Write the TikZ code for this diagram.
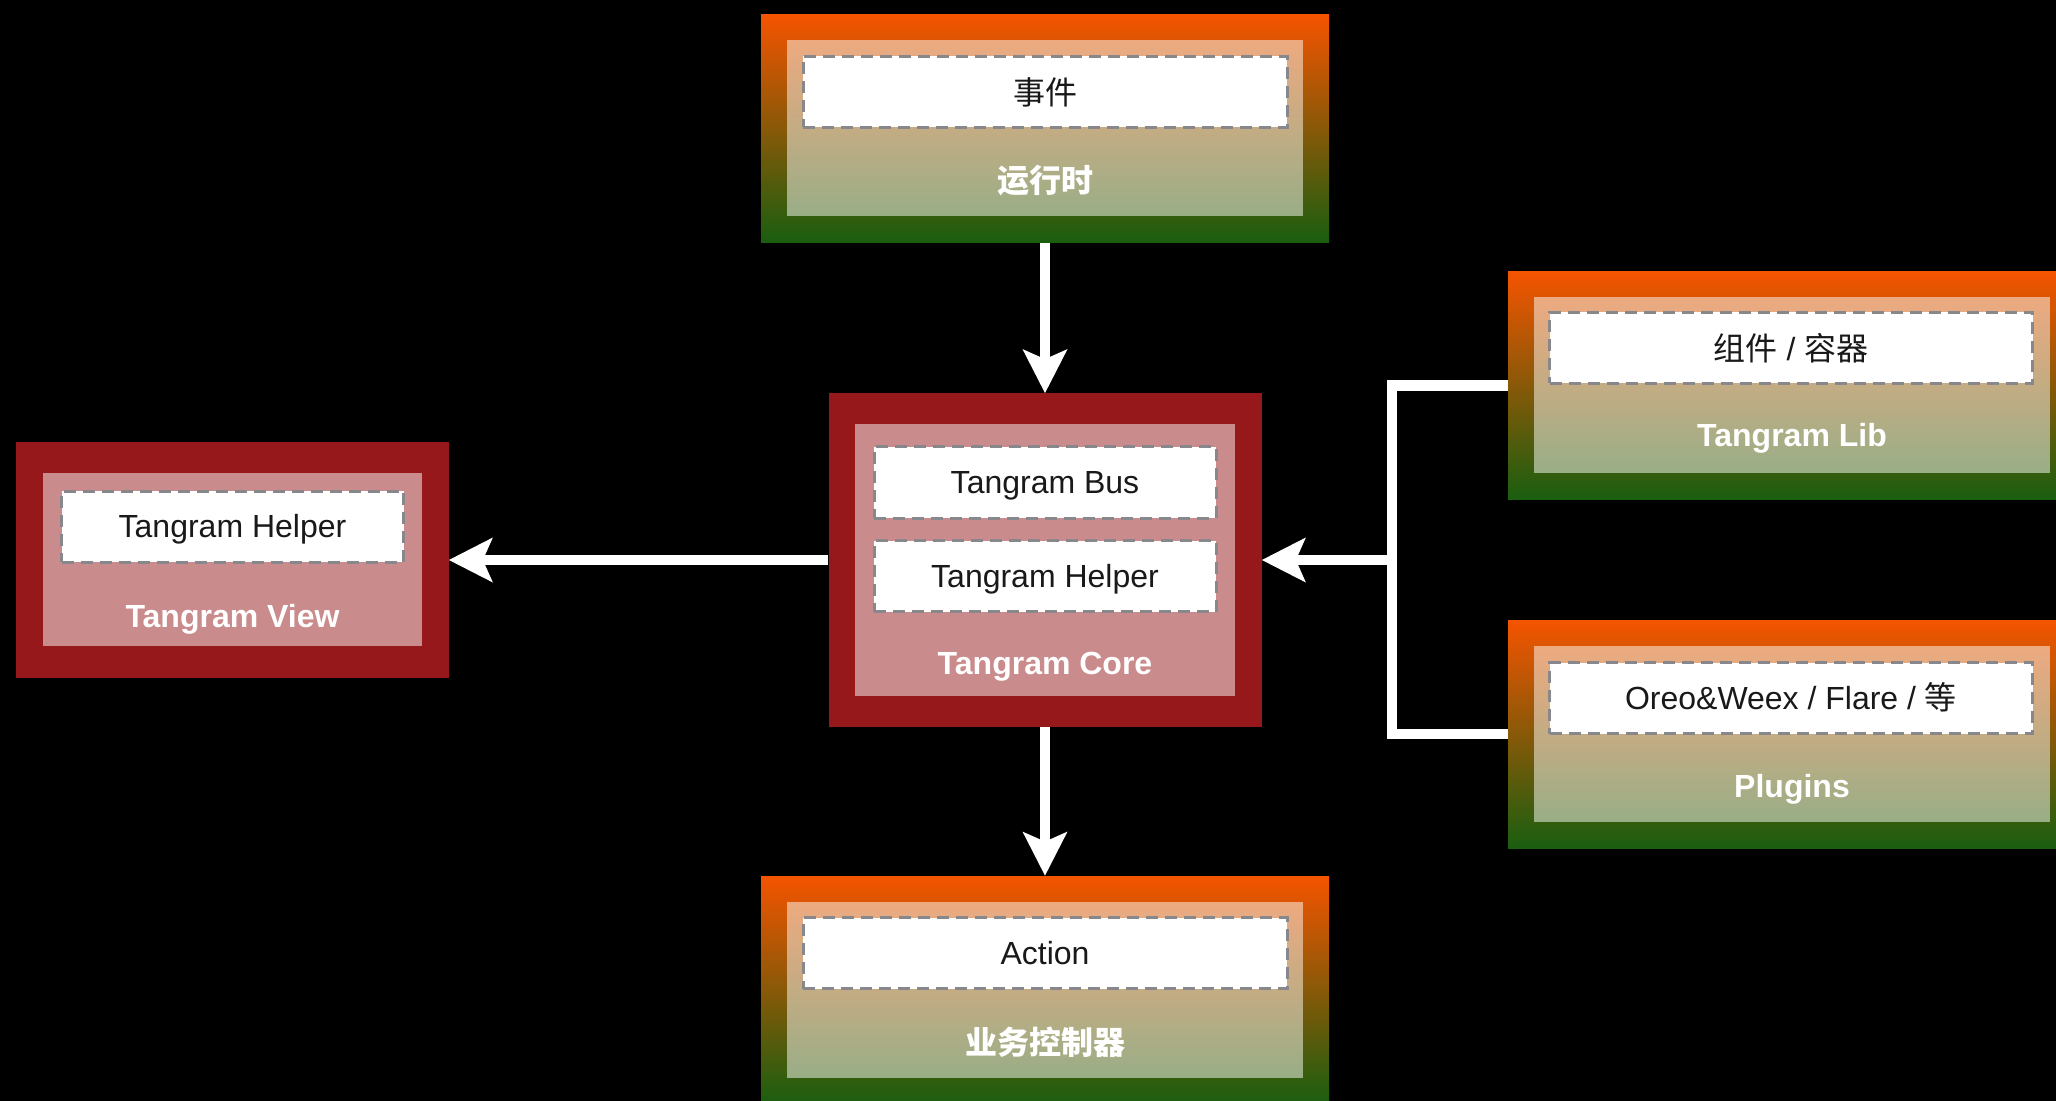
\documentclass[tikz,border=0pt]{standalone}
\usepackage{fontspec}
\setmainfont{Liberation Sans}
\newfontfamily\cjk{Noto Sans CJK SC}
\usetikzlibrary{arrows.meta}

\definecolor{gtop}{RGB}{245,84,0}
\definecolor{gbot}{RGB}{26,94,16}
\definecolor{corered}{RGB}{150,24,26}
\definecolor{slotline}{RGB}{136,136,140}

\begin{document}
\begin{tikzpicture}[x=0.5pt,y=-0.5pt,
  every node/.style={rectangle, inner sep=0pt, font=\fontsize{16}{19}\selectfont},
  gbox/.style={top color=gtop, bottom color=gbot, minimum width=284pt, minimum height=114pt},
  rbox/.style={fill=corered, minimum width=216.5pt},
  glass/.style={fill=white, fill opacity=0.5},
  slot/.style={draw=slotline, fill=white, line width=1.5pt, dash pattern=on 6pt off 3.5pt, minimum height=35.5pt, text height=11.5pt, text depth=0pt, text=black!90},
  cjkslot/.style={slot, text height=13pt},
  title/.style={text=white, text height=11.5pt, text depth=0pt, font=\fontsize{16}{19}\selectfont\bfseries},
  wire/.style={draw=white, line width=5.25pt},
  arr/.style={wire, -{Stealth[length=22pt,width=22.5pt,inset=5pt,line width=0pt]}}]
% Background
\fill[black] (0,0) rectangle (2056,1101);
\useasboundingbox (0,0) rectangle (2056,1101);

% Runtime
\node[gbox] (rt) at (1045,128.5) {};
\node[glass, minimum width=258pt, minimum height=88pt] (rt-g) at (rt) {};
\node[cjkslot, minimum width=242pt] (rt-ev) at (1045,92) {\cjk 事件};
\node[title] (rt-t) at (1045,181) {\cjk 运行时};

% Core
\node[rbox, minimum height=166.5pt] (core) at (1045,560) {};
\node[glass, minimum width=190pt, minimum height=136pt] (core-g) at (core) {};
\node[slot, minimum width=171pt] (core-bus) at (1045,482.5) {Tangram Bus};
\node[slot, minimum width=171pt] (core-hlp) at (1045,576) {Tangram Helper};
\node[title] (core-t) at (1045,662.5) {Tangram Core};

% View
\node[rbox, minimum height=118pt] (view) at (232,560) {};
\node[glass, minimum width=189.5pt, minimum height=86pt] (view-g) at (232.5,559.5) {};
\node[slot, minimum width=171pt] (view-hlp) at (232.5,526.5) {Tangram Helper};
\node[title] (view-t) at (232.5,616) {Tangram View};

% Lib
\node[gbox] (lib) at (1792,385.5) {};
\node[glass, minimum width=258pt, minimum height=88pt] (lib-g) at (lib) {};
\node[cjkslot, minimum width=241.5pt] (lib-cmp) at (1791,348) {{\cjk 组件} / {\cjk 容器}};
\node[title] (lib-t) at (1792,435.5) {Tangram Lib};

% Plugins
\node[gbox] (plug) at (1792,734) {};
\node[glass, minimum width=258pt, minimum height=88pt] (plug-g) at (plug) {};
\node[slot, minimum width=241.5pt] (plug-ext) at (1791,698) {Oreo\&Weex / Flare / {\cjk 等}};
\node[title] (plug-t) at (1792,785.5) {Plugins};

% Controller
\node[gbox] (ctrl) at (1045,990) {};
\node[glass, minimum width=258pt, minimum height=88pt] (ctrl-g) at (ctrl) {};
\node[slot, minimum width=242pt] (ctrl-act) at (1045,953) {Action};
\node[title] (ctrl-t) at (1045,1043) {\cjk 业务控制器};

% Arrows
\draw[arr] (rt) -- (core);
\draw[arr] (core) -- (ctrl);
\draw[arr] (core) -- (view);
\coordinate (jn) at (1392,560);
\draw[wire] (lib.west) -| (jn) |- (plug.west);
\draw[arr] (jn) -- (core);
\end{tikzpicture}
\end{document}
